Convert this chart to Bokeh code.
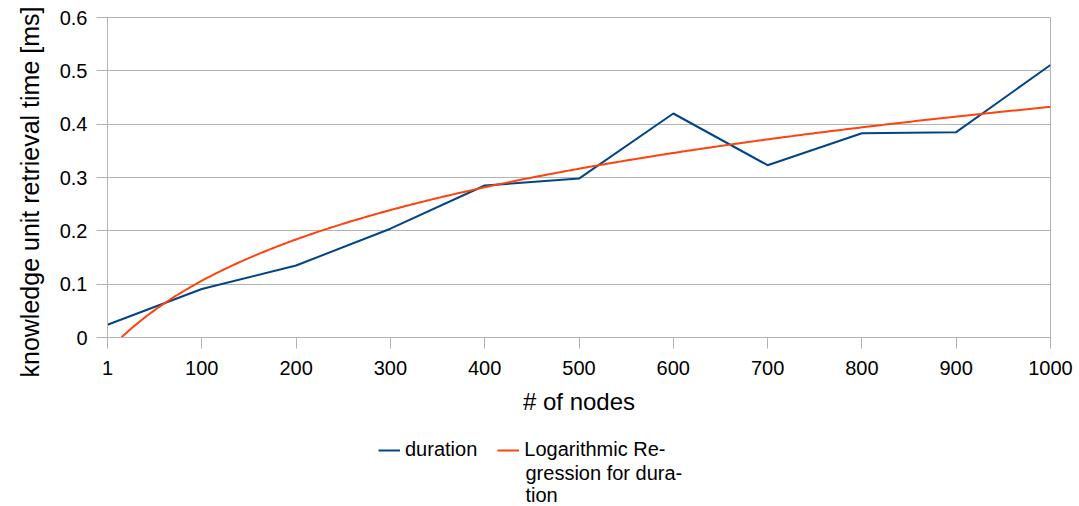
import numpy as np
from bokeh.plotting import figure
from bokeh.layouts import column
from bokeh.models import Range1d, FixedTicker, Legend, LegendItem, Label, Title
from bokeh.embed import file_html
from bokeh.resources import INLINE

nodes = ["1", "100", "200", "300", "400", "500", "600", "700", "800", "900", "1000"]
duration = [0.024, 0.091, 0.135, 0.204, 0.285, 0.298, 0.420, 0.323, 0.383, 0.385, 0.511]

y_ticks = [0, 0.1, 0.2, 0.3, 0.4, 0.5, 0.6]
y_tick_labels = ["0", "0.1", "0.2", "0.3", "0.4", "0.5", "0.6"]

FONT = "Liberation Sans"
BLUE = "#004586"
RED = "#ff420e"
GRAY = "#b3b3b3"

x = np.arange(len(nodes))
# logarithmic regression of duration on category position (1-based)
b, a = np.polyfit(np.log(x + 1), duration, 1)
x0 = np.exp(-a / b) - 1
xs = np.linspace(max(x0, 0), len(nodes) - 1, 400)
ys = a + b * np.log(xs + 1)

p = figure(width=1079, height=420, output_backend="svg", toolbar_location=None,
           x_range=Range1d(0, len(nodes) - 1), y_range=Range1d(0, 0.6),
           frame_width=943, frame_height=320,
           min_border_left=107, min_border_right=29, min_border_top=17,
           min_border_bottom=83)

r1 = p.line(x, duration, line_color=BLUE, line_width=2)
r2 = p.line(xs, ys, line_color=RED, line_width=2)

p.outline_line_color = GRAY
p.xgrid.visible = False
p.ygrid.grid_line_color = GRAY
p.ygrid.ticker = FixedTicker(ticks=y_ticks)

p.xaxis.ticker = FixedTicker(ticks=list(x))
p.xaxis.major_label_overrides = {int(i): n for i, n in zip(x, nodes)}
p.yaxis.ticker = FixedTicker(ticks=y_ticks)
p.yaxis.major_label_overrides = {t: l for t, l in zip(y_ticks, y_tick_labels)}

for ax in (p.xaxis, p.yaxis):
    ax.axis_line_color = GRAY
    ax.major_tick_line_color = GRAY
    ax.major_tick_in = 0
    ax.major_tick_out = 11
    ax.minor_tick_line_color = None
    ax.major_label_text_font = FONT
    ax.major_label_text_font_size = "20px"
    ax.major_label_text_color = "black"
    ax.axis_label_text_font = FONT
    ax.axis_label_text_font_style = "normal"
    ax.axis_label_text_color = "black"

p.xaxis.axis_label = "# of nodes"
p.xaxis.axis_label_text_font_size = "24px"
p.xaxis.major_label_standoff = 12
p.xaxis.axis_label_standoff = 10
p.yaxis.major_label_standoff = 9

ytitle = Title(text="knowledge unit retrieval time [ms]", align="left",
               vertical_align="middle",
               offset=-40, standoff=24, text_font=FONT, text_font_size="25px",
               text_font_style="normal", text_color="black")
p.add_layout(ytitle, "left")

# legend panel below the chart
lg = figure(width=1079, height=86, output_backend="svg", toolbar_location=None,
            x_range=Range1d(0, 1), y_range=Range1d(0, 1),
            min_border=0, min_border_left=0, min_border_right=0,
            min_border_top=0, min_border_bottom=0)
lg.axis.visible = False
lg.grid.visible = False
lg.outline_line_color = None
d1 = lg.line(x=[np.nan], y=[np.nan], line_color=BLUE, line_width=2)
d2 = lg.line(x=[np.nan], y=[np.nan], line_color=RED, line_width=2)

legend = Legend(items=[LegendItem(label="duration", renderers=[d1]),
                       LegendItem(label="Logarithmic Re-", renderers=[d2])],
                orientation="horizontal", location=(271, 45),
                label_text_font=FONT, label_text_font_size="20px",
                label_text_color="black", label_height=20, glyph_height=20,
                glyph_width=22, spacing=20, padding=0, margin=0,
                label_standoff=5,
                border_line_alpha=0, background_fill_alpha=0)
lg.add_layout(legend, "center")

for txt, yy in (("gression for dura-", 34), ("tion", 12)):
    lg.add_layout(Label(x=418, y=yy, x_units="screen", y_units="screen",
                        text=txt, text_font=FONT, text_font_size="20px",
                        text_color="black", text_baseline="middle"))

layout = column(p, lg, spacing=0)
open("out.html", "w").write(file_html(layout, INLINE))
